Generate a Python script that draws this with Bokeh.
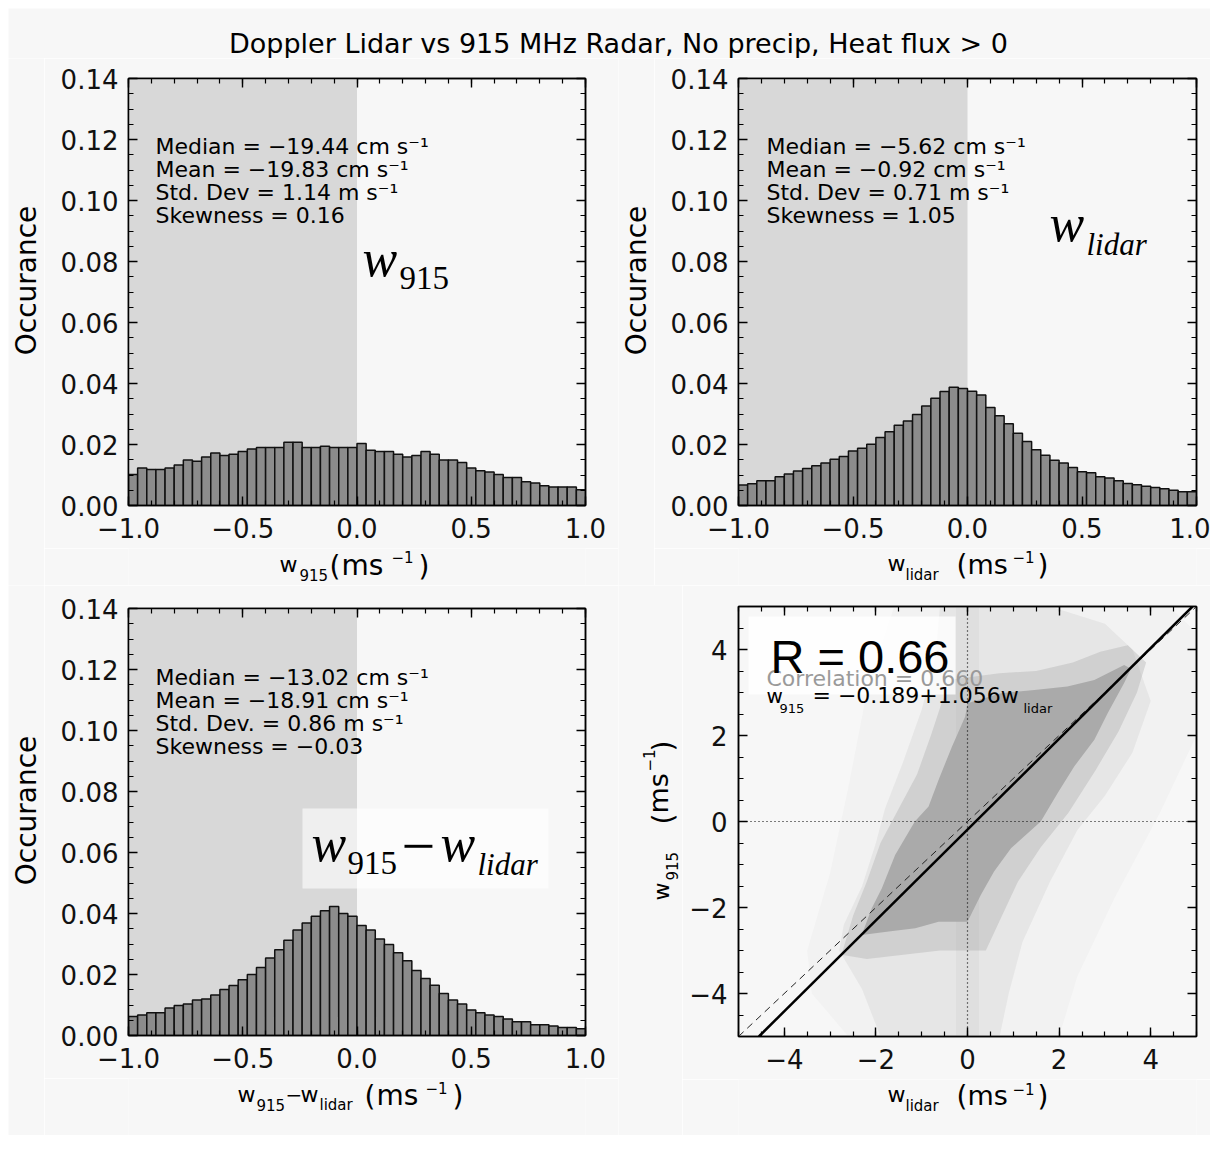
import numpy as np
from bokeh.plotting import figure
from bokeh.models import (Range1d, LinearAxis, FixedTicker, CustomJSTickFormatter,
                          BoxAnnotation, Label, Span, Slope)
from bokeh.layouts import column, row
from bokeh.embed import file_html
from bokeh.resources import INLINE

# ---------------------------------------------------------------- data
bin_edges = [round(-1.0 + 0.04 * i, 2) for i in range(51)]

w915_occ = [0.0102, 0.0123, 0.0118, 0.0118, 0.0123, 0.0133, 0.0149, 0.0145, 0.0159, 0.0172,
            0.0164, 0.0168, 0.0177, 0.0185, 0.0190, 0.0190, 0.0190, 0.0207, 0.0207, 0.0190,
            0.0190, 0.0194, 0.0190, 0.0190, 0.0190, 0.0203, 0.0181, 0.0177, 0.0177, 0.0168,
            0.0159, 0.0164, 0.0177, 0.0168, 0.0149, 0.0149, 0.0141, 0.0123, 0.0114, 0.0110,
            0.0102, 0.0092, 0.0092, 0.0078, 0.0074, 0.0065, 0.0061, 0.0061, 0.0061, 0.0052]

lidar_occ = [0.0067, 0.0071, 0.0081, 0.0081, 0.0094, 0.0103, 0.0113, 0.0121, 0.0130, 0.0139,
             0.0152, 0.0161, 0.0179, 0.0188, 0.0201, 0.0223, 0.0242, 0.0263, 0.0277, 0.0298,
             0.0326, 0.0352, 0.0374, 0.0388, 0.0384, 0.0375, 0.0362, 0.0321, 0.0294, 0.0268,
             0.0237, 0.0210, 0.0183, 0.0165, 0.0148, 0.0139, 0.0125, 0.0111, 0.0107, 0.0094,
             0.0090, 0.0081, 0.0072, 0.0068, 0.0063, 0.0059, 0.0055, 0.0050, 0.0045, 0.0045]

diff_occ = [0.0062, 0.0067, 0.0075, 0.0075, 0.0090, 0.0098, 0.0103, 0.0116, 0.0120, 0.0133,
            0.0151, 0.0164, 0.0183, 0.0200, 0.0223, 0.0254, 0.0281, 0.0312, 0.0346, 0.0369,
            0.0391, 0.0409, 0.0423, 0.0400, 0.0391, 0.0361, 0.0346, 0.0316, 0.0298, 0.0271,
            0.0245, 0.0213, 0.0187, 0.0165, 0.0138, 0.0116, 0.0103, 0.0084, 0.0075, 0.0067,
            0.0062, 0.0054, 0.0045, 0.0045, 0.0035, 0.0035, 0.0031, 0.0026, 0.0026, 0.0022]

w915_stats = ["Median = \u221219.44 cm s\u207b\u00b9", "Mean = \u221219.83 cm s\u207b\u00b9",
              "Std. Dev = 1.14 m s\u207b\u00b9", "Skewness = 0.16"]
lidar_stats = ["Median = \u22125.62 cm s\u207b\u00b9", "Mean = \u22120.92 cm s\u207b\u00b9",
               "Std. Dev = 0.71 m s\u207b\u00b9", "Skewness = 1.05"]
diff_stats = ["Median = \u221213.02 cm s\u207b\u00b9", "Mean = \u221218.91 cm s\u207b\u00b9",
              "Std. Dev. = 0.86 m s\u207b\u00b9", "Skewness = \u22120.03"]

title_text = "Doppler Lidar vs 915 MHz Radar, No precip, Heat flux > 0"
ylabel_text = "Occurance"

hist_xticks = [-1.0, -0.5, 0.0, 0.5, 1.0]
hist_xminor = [round(-1.0 + 0.1 * i, 2) for i in range(21)]
hist_yticks = [0.0, 0.02, 0.04, 0.06, 0.08, 0.10, 0.12, 0.14]
hist_yminor = [round(0.005 * i, 3) for i in range(29)]
scat_ticks = [-4, -2, 0, 2, 4]
scat_minor = [-5 + 0.5 * i for i in range(21)]

correlation = 0.660
fit_intercept = -0.189
fit_slope = 1.056

# outlines of the scatter cloud:
# dense core, dense halo, dotted halo, sparse fringe, and the column of points near w_lidar = 0
core_x = [0.00, 0.73, 1.46, 2.18, 2.77, 3.42, 3.57, 3.42, 3.06, 2.77, 2.33, 1.97, 1.60, 0.95, 0.58,
          0.29, 0.00, -0.63, -1.14, -1.72, -2.31, -2.09, -1.87, -1.58, -1.15, -0.85, -0.63, -0.34, -0.05]
core_y = [2.75, 2.98, 3.06, 3.14, 3.29, 3.64, 3.55, 3.22, 2.52, 1.90, 1.28, 0.66, 0.00, -0.62, -1.16,
          -1.71, -2.33, -2.33, -2.48, -2.56, -2.64, -2.02, -1.55, -0.78, 0.00, 0.35, 0.97, 1.74, 2.44]
inner_x = [-0.35, 0.7, 1.5, 2.3, 2.9, 3.5, 3.9, 3.7, 3.3, 2.8, 2.2, 1.6, 1.1, 0.75, 0.4, -0.6,
           -1.4, -2.2, -2.75, -2.5, -2.2, -1.9, -1.5, -1.1, -0.8, -0.55]
inner_y = [3.3, 3.45, 3.5, 3.7, 3.95, 4.1, 3.7, 3.0, 2.1, 1.2, 0.2, -0.6, -1.4, -2.2, -3.0, -3.0,
           -3.1, -3.2, -3.1, -2.2, -1.4, -0.5, 0.3, 1.1, 2.0, 2.8]
halo_x = [-0.6, 1.8, 3.0, 3.6, 4.0, 3.6, 3.0, 2.4, 1.8, 1.2, 0.9, 0.7, -1.9, -2.3, -2.8, -2.7,
          -2.3, -2.0, -1.8, -1.4, -1.0, -0.7]
halo_y = [5.0, 5.0, 4.6, 4.0, 2.8, 1.6, 0.6, -0.2, -1.4, -2.8, -4.0, -5.0, -5.0, -3.9, -3.0, -2.4,
          -1.5, -0.5, 0.3, 1.4, 2.6, 3.8]
outer_x = [-1.6, 4.4, 5.0, 5.0, 4.2, 3.2, 2.4, 2.0, -2.6, -3.4, -3.5, -3.0, -2.6, -2.2]
outer_y = [5.0, 5.0, 4.4, 2.0, 0.2, -1.8, -3.6, -5.0, -5.0, -4.0, -3.0, -1.2, 0.8, 3.0]
stripe_left, stripe_right = -0.25, 0.25

# ---------------------------------------------------------------- helpers
BG = "#f7f7f7"
FONT = "DejaVu Sans"
SERIF = "Liberation Serif"
SANS = "Liberation Sans"
TICK_FONT = "26px"


def fmt(dec, show=True):
    if not show:
        return CustomJSTickFormatter(code="return '';")
    return CustomJSTickFormatter(
        code="return (tick < -1e-9 ? '\\u2212' : '') + Math.abs(tick).toFixed(%d);" % dec)


def make_fig(fw, fh, bl, br, bt, bb, xr, yr, xt, xm, yt, ym, xdec, ydec, xstand, ystand):
    p = figure(frame_width=fw, frame_height=fh, min_border_left=bl, min_border_right=br,
               min_border_top=bt, min_border_bottom=bb, x_range=Range1d(*xr), y_range=Range1d(*yr),
               output_backend="svg", toolbar_location=None, background_fill_color=BG,
               border_fill_color=BG, outline_line_color="black", outline_line_width=1.5)
    p.xgrid.visible = False
    p.ygrid.visible = False
    top = LinearAxis()
    right = LinearAxis()
    p.add_layout(top, "above")
    p.add_layout(right, "right")
    specs = [(p.below[0], xt, xm, xdec, True, xstand), (top, xt, xm, xdec, False, 0),
             (p.left[0], yt, ym, ydec, True, ystand), (right, yt, ym, ydec, False, 0)]
    for ax, ticks, minor, dec, show, standoff in specs:
        ax.ticker = FixedTicker(ticks=ticks, minor_ticks=minor)
        ax.formatter = fmt(dec, show)
        ax.major_tick_in = 9
        ax.major_tick_out = 0
        ax.minor_tick_in = 5
        ax.minor_tick_out = 0
        ax.axis_line_color = "black"
        ax.axis_line_width = 1.5
        ax.major_tick_line_color = "black"
        ax.major_tick_line_width = 1.4
        ax.minor_tick_line_color = "black"
        ax.minor_tick_line_width = 1.2
        ax.major_label_text_font = FONT
        ax.major_label_text_font_size = TICK_FONT if show else "1px"
        ax.major_label_text_color = "#111111"
        ax.major_label_standoff = standoff
    return p


def strip(fw, fh, bl=0, br=0):
    """Text-only figure; its frame is fw x fh, with side borders bl/br (to line up with a panel)."""
    s = figure(frame_width=fw, frame_height=fh, x_range=Range1d(0, fw), y_range=Range1d(0, fh),
               min_border_left=bl, min_border_right=br, min_border_top=0, min_border_bottom=0,
               x_axis_location=None, y_axis_location=None, outline_line_color=None,
               background_fill_color=BG, border_fill_color=BG, output_backend="svg",
               toolbar_location=None)
    s.grid.visible = False
    return s


def put(p, g, text, px, py, size, font=FONT, style="normal", color="black", angle=0.0,
        align="left"):
    """px, py: page position of the text's anchor on its baseline."""
    L, R, T, B, x0, x1, y0, y1 = g
    mid = 0.37 * size
    if angle == 0.0:
        py = py - mid
    else:
        px = px - mid
    x = x0 + (px - L) / (R - L) * (x1 - x0)
    y = y1 - (py - T) / (B - T) * (y1 - y0)
    p.add_layout(Label(x=x, y=y, text=text, text_font=font, text_font_size="%dpx" % size,
                       text_font_style=style, text_color=color, angle=angle,
                       text_align=align, text_baseline="middle"))


def px2data(g, px, py):
    L, R, T, B, x0, x1, y0, y1 = g
    return (x0 + (px - L) / (R - L) * (x1 - x0), y1 - (py - T) / (B - T) * (y1 - y0))


def sgeom(L, T, w, h):
    return (L, L + w, T, T + h, 0, w, 0, h)


# frame geometry in page pixels + data ranges
G1 = (128, 585, 78, 505, -1, 1, 0, 0.14)
G2 = (738, 1196, 78, 505, -1, 1, 0, 0.14)
G3 = (128, 585, 608, 1035, -1, 1, 0, 0.14)
G4 = (738, 1196, 606, 1036, -5, 5, -5, 5)
HB = 43   # bottom border of every panel (tick labels)


def hist_panel(g, occ, stats, bl, br, bt, stats_x, stats_y0):
    p = make_fig(g[1] - g[0], g[3] - g[2], bl, br, bt, HB, (-1, 1), (0, 0.14),
                 hist_xticks, hist_xminor, hist_yticks, hist_yminor, 1, 2, 12, 10)
    p.add_layout(BoxAnnotation(right=0, fill_color="#d8d8d8", fill_alpha=1.0,
                               line_alpha=0, level="underlay"))
    p.quad(left=bin_edges[:-1], right=bin_edges[1:], bottom=0, top=occ,
           fill_color="#8c8c8c", line_color="#111111", line_width=1.5)
    for i, s in enumerate(stats):
        put(p, g, s, stats_x, stats_y0 + 23 * i, 22)
    return p


def ylabel_strip(L, T, w, h, base_x, center_y):
    g = sgeom(L, T, w, h)
    s = strip(w, h)
    put(s, g, ylabel_text, base_x, center_y, 28, angle=np.pi / 2, align="center")
    return s


# ---------------------------------------------------------------- title strip
GT = sgeom(8, 8, 1202, 50)
st = strip(1202, 50)
put(st, GT, title_text, 618, 53, 27, align="center")

# ---------------------------------------------------------------- panel 1
o1 = ylabel_strip(8, 58, 36, 527, 36, 280)
p1 = hist_panel(G1, w915_occ, w915_stats, 84, 33, 20, 155, 154)
put(p1, G1, "w", 362, 277, 52, SERIF, "italic")
put(p1, G1, "915", 399, 290, 33, SERIF)
S1 = sgeom(128, 548, 457, 37)
s1 = strip(457, 37, 84, 33)
for t, x, y, s in [("w", 279, 572, 22), ("915", 299, 580, 15), ("(", 329, 576, 28),
                   ("ms", 341, 575, 28), ("\u22121", 391, 562, 15), (")", 418, 576, 28)]:
    put(s1, S1, t, x, y, s)

# ---------------------------------------------------------------- panel 2
o2 = ylabel_strip(618, 58, 36, 527, 646, 280)
p2 = hist_panel(G2, lidar_occ, lidar_stats, 84, 14, 20, 766, 154)
put(p2, G2, "w", 1049, 242, 52, SERIF, "italic")
put(p2, G2, "lidar", 1086, 255, 31, SERIF, "italic")
S2 = sgeom(738, 548, 458, 37)
s2 = strip(458, 37, 84, 14)
for t, x, y, s in [("w", 887, 571, 22), ("lidar", 905, 580, 15), ("(", 956, 575, 28),
                   ("ms", 967, 574, 27), ("\u22121", 1012, 562, 15), (")", 1037, 575, 28)]:
    put(s2, S2, t, x, y, s)

# ---------------------------------------------------------------- panel 3
o3 = ylabel_strip(8, 585, 36, 550, 36, 810)
p3 = hist_panel(G3, diff_occ, diff_stats, 84, 33, 23, 155, 685)
bx0, by0 = px2data(G3, 302, 888)
bx1, by1 = px2data(G3, 548, 808)
p3.add_layout(BoxAnnotation(left=bx0, right=bx1, bottom=by0, top=by1, fill_color="white",
                            fill_alpha=0.6, line_alpha=0))
put(p3, G3, "w", 311, 862, 52, SERIF, "italic")
put(p3, G3, "915", 347, 875, 33, SERIF)
put(p3, G3, "\u2212", 401, 868, 60, SERIF)
put(p3, G3, "w", 440, 862, 52, SERIF, "italic")
put(p3, G3, "lidar", 477, 875, 31, SERIF, "italic")
S3 = sgeom(128, 1078, 457, 57)
s3 = strip(457, 57, 84, 33)
for t, x, y, s in [("w", 237, 1102, 22), ("915", 256, 1110, 15), ("\u2212", 285, 1102, 20),
                   ("w", 300, 1102, 22), ("lidar", 319, 1110, 15), ("(", 364, 1106, 28),
                   ("ms", 376, 1105, 28), ("\u22121", 425, 1093, 15), (")", 452, 1106, 28)]:
    put(s3, S3, t, x, y, s)

# ---------------------------------------------------------------- panel 4 (scatter)
p4 = make_fig(G4[1] - G4[0], G4[3] - G4[2], 56, 14, 21, HB, (-5, 5), (-5, 5),
              scat_ticks, scat_minor, scat_ticks, scat_minor, 0, 0, 12, 11)
DOT = "#aaaaaa"
p4.patch(outer_x, outer_y, fill_color=DOT, fill_alpha=0.06, line_alpha=0)
p4.add_layout(BoxAnnotation(left=stripe_left, right=stripe_right, fill_color=DOT,
                            fill_alpha=0.12, line_alpha=0, level="underlay"))
p4.patch(halo_x, halo_y, fill_color=DOT, fill_alpha=0.17, line_alpha=0)
p4.patch(inner_x, inner_y, fill_color=DOT, fill_alpha=0.36, line_alpha=0)
p4.patch(core_x, core_y, fill_color=DOT, line_alpha=0)
p4.add_layout(Span(location=0, dimension="height", line_color="black", line_width=1.2,
                   line_dash="1 3"))
p4.add_layout(Span(location=0, dimension="width", line_color="black", line_width=1.2,
                   line_dash="1 3"))
p4.add_layout(Slope(gradient=1.0, y_intercept=0.0, line_color="#222222", line_width=1,
                    line_dash="7 5"))
p4.add_layout(Slope(gradient=fit_slope, y_intercept=fit_intercept, line_color="black",
                    line_width=2.5))
rx0, ry0 = px2data(G4, 748, 694)
rx1, ry1 = px2data(G4, 955, 616)
p4.add_layout(BoxAnnotation(left=rx0, right=rx1, bottom=ry0, top=ry1, fill_color="white",
                            fill_alpha=0.8, line_alpha=0))
put(p4, G4, "Correlation = %.3f" % correlation, 766, 686, 22, color="#9a9a9a")
put(p4, G4, "w", 766, 703, 20)
put(p4, G4, "915", 779, 713, 13)
put(p4, G4, "= \u2212%.3f+%.3fw" % (abs(fit_intercept), fit_slope), 812, 703, 22)
put(p4, G4, "lidar", 1023, 713, 13)
put(p4, G4, "R = %.2f" % correlation, 770, 673, 47, SANS)

S4X = sgeom(738, 1079, 458, 56)
s4x = strip(458, 56, 56, 14)
for t, x, y, s in [("w", 887, 1102, 22), ("lidar", 905, 1111, 15), ("(", 956, 1106, 28),
                   ("ms", 967, 1105, 27), ("\u22121", 1012, 1094, 15), (")", 1037, 1106, 28)]:
    put(s4x, S4X, t, x, y, s)

S4Y = sgeom(618, 585, 64, 550)
s4y = strip(64, 550)
for t, x, y, s in [("w", 669, 900, 22), ("915", 677, 880, 15), ("(", 673, 824, 28),
                   ("ms", 668, 813, 27), ("\u22121", 654, 771, 15), (")", 673, 751, 28)]:
    put(s4y, S4Y, t, x, y, s, angle=np.pi / 2)

# ---------------------------------------------------------------- layout
layout = column(st,
                row(o1, column(p1, s1), o2, column(p2, s2)),
                row(o3, column(p3, s3), s4y, column(p4, s4x)),
                margin=(8, 0, 0, 8))
open("out.html", "w").write(file_html(layout, INLINE))
